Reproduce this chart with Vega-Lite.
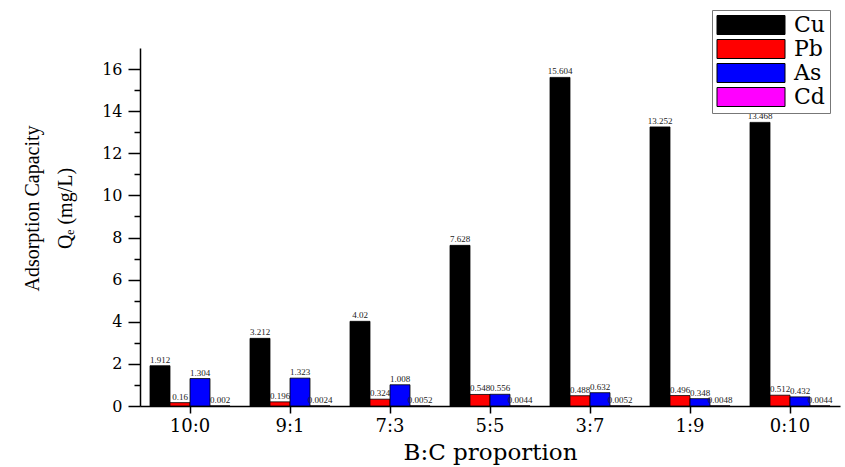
{
  "$schema": "https://vega.github.io/schema/vega-lite/v6.json",
  "width": 700,
  "height": 358,
  "autosize": {"type": "none"},
  "padding": {"left": 140, "top": 48, "right": 5, "bottom": 61},
  "background": "white",
  "config": {"view": {"stroke": null}},
  "data": {"values": [
    {"ratio": "10:0", "metal": "Cu", "value": 1.912},
    {"ratio": "10:0", "metal": "Pb", "value": 0.16},
    {"ratio": "10:0", "metal": "As", "value": 1.304},
    {"ratio": "10:0", "metal": "Cd", "value": 0.002},
    {"ratio": "9:1", "metal": "Cu", "value": 3.212},
    {"ratio": "9:1", "metal": "Pb", "value": 0.196},
    {"ratio": "9:1", "metal": "As", "value": 1.323},
    {"ratio": "9:1", "metal": "Cd", "value": 0.0024},
    {"ratio": "7:3", "metal": "Cu", "value": 4.02},
    {"ratio": "7:3", "metal": "Pb", "value": 0.324},
    {"ratio": "7:3", "metal": "As", "value": 1.008},
    {"ratio": "7:3", "metal": "Cd", "value": 0.0052},
    {"ratio": "5:5", "metal": "Cu", "value": 7.628},
    {"ratio": "5:5", "metal": "Pb", "value": 0.548},
    {"ratio": "5:5", "metal": "As", "value": 0.556},
    {"ratio": "5:5", "metal": "Cd", "value": 0.0044},
    {"ratio": "3:7", "metal": "Cu", "value": 15.604},
    {"ratio": "3:7", "metal": "Pb", "value": 0.488},
    {"ratio": "3:7", "metal": "As", "value": 0.632},
    {"ratio": "3:7", "metal": "Cd", "value": 0.0052},
    {"ratio": "1:9", "metal": "Cu", "value": 13.252},
    {"ratio": "1:9", "metal": "Pb", "value": 0.496},
    {"ratio": "1:9", "metal": "As", "value": 0.348},
    {"ratio": "1:9", "metal": "Cd", "value": 0.0048},
    {"ratio": "0:10", "metal": "Cu", "value": 13.468},
    {"ratio": "0:10", "metal": "Pb", "value": 0.512},
    {"ratio": "0:10", "metal": "As", "value": 0.432},
    {"ratio": "0:10", "metal": "Cd", "value": 0.0044}
  ]},
  "encoding": {
    "x": {
      "field": "ratio", "type": "nominal",
      "sort": ["10:0", "9:1", "7:3", "5:5", "3:7", "1:9", "0:10"],
      "scale": {"paddingInner": 0.2, "paddingOuter": 0.1},
      "axis": {
        "title": "B:C proportion",
        "titleFont": "DejaVu Serif", "titleFontSize": 23, "titleFontWeight": "normal",
        "titleColor": "black", "titlePadding": 6,
        "labelFont": "DejaVu Serif", "labelFontSize": 18, "labelColor": "black",
        "labelAngle": 0, "labelPadding": 4,
        "domainColor": "black", "domainWidth": 1.5,
        "tickColor": "black", "tickWidth": 1.5, "tickSize": 7
      }
    },
    "xOffset": {"field": "metal", "type": "nominal", "sort": ["Cu", "Pb", "As", "Cd"], "scale": {"paddingInner": 0}},
    "y": {
      "field": "value", "type": "quantitative",
      "scale": {"domain": [0, 17], "nice": false},
      "axis": {
        "values": [0,1,2,3,4,5,6,7,8,9,10,11,12,13,14,15,16],
        "labelExpr": "datum.value % 2 == 0 ? datum.label : ''",
        "grid": false,
        "title": ["Adsorption Capacity", "Qₑ (mg/L)"],
        "titleFont": "Liberation Serif", "titleFontSize": 20, "titleFontWeight": "normal",
        "titleColor": "black", "titleLineHeight": 33, "titlePadding": 26,
        "titleY": 160,
        "labelFont": "DejaVu Serif", "labelFontSize": 16, "labelColor": "black",
        "labelPadding": 6,
        "domainColor": "black", "domainWidth": 1.5,
        "tickColor": "black", "tickWidth": 1.5,
        "tickSize": {"condition": {"test": "datum.value % 2 == 0", "value": 12}, "value": 6}
      }
    }
  },
  "layer": [
    {
      "transform": [{"filter": "datum.metal == 'Cu' || datum.metal == 'Pb'"}],
      "mark": {"type": "bar", "stroke": "black", "strokeWidth": 0.8},
      "encoding": {
        "color": {
          "field": "metal", "type": "nominal",
          "sort": ["Cu", "Pb", "As", "Cd"],
          "scale": {"domain": ["Cu", "Pb", "As", "Cd"], "range": ["#000000", "#ff0000", "#0000ff", "#ff00ff"]},
          "legend": {
            "title": null,
            "orient": "none", "legendX": 572, "legendY": -38,
            "symbolType": "M-1,-0.95H5.8V0.95H-1Z",
            "symbolSize": 400,
            "symbolStrokeColor": "#333333", "symbolStrokeWidth": 1,
            "labelFont": "DejaVu Serif", "labelFontSize": 22, "labelColor": "black",
            "labelOffset": 56,
            "rowPadding": 0,
            "strokeColor": "#777777", "padding": 4
          }
        }
      }
    },
    {
      "transform": [{"filter": "datum.metal == 'Cu' || datum.metal == 'Pb'"}],
      "mark": {"type": "text", "baseline": "bottom", "dy": -1, "font": "Liberation Serif", "fontSize": 9, "color": "#222222"},
      "encoding": {
        "text": {"field": "value", "type": "quantitative", "format": "~g"}
      }
    },
    {
      "transform": [{"filter": "datum.metal == 'As' || datum.metal == 'Cd'"}],
      "mark": {"type": "bar", "stroke": "black", "strokeWidth": 0.8},
      "encoding": {
        "color": {"field": "metal", "type": "nominal", "sort": ["Cu", "Pb", "As", "Cd"]}
      }
    },
    {
      "transform": [{"filter": "datum.metal == 'As' || datum.metal == 'Cd'"}],
      "mark": {"type": "text", "baseline": "bottom", "dy": -1, "font": "Liberation Serif", "fontSize": 9, "color": "#222222"},
      "encoding": {
        "text": {"field": "value", "type": "quantitative", "format": "~g"}
      }
    }
  ]
}
